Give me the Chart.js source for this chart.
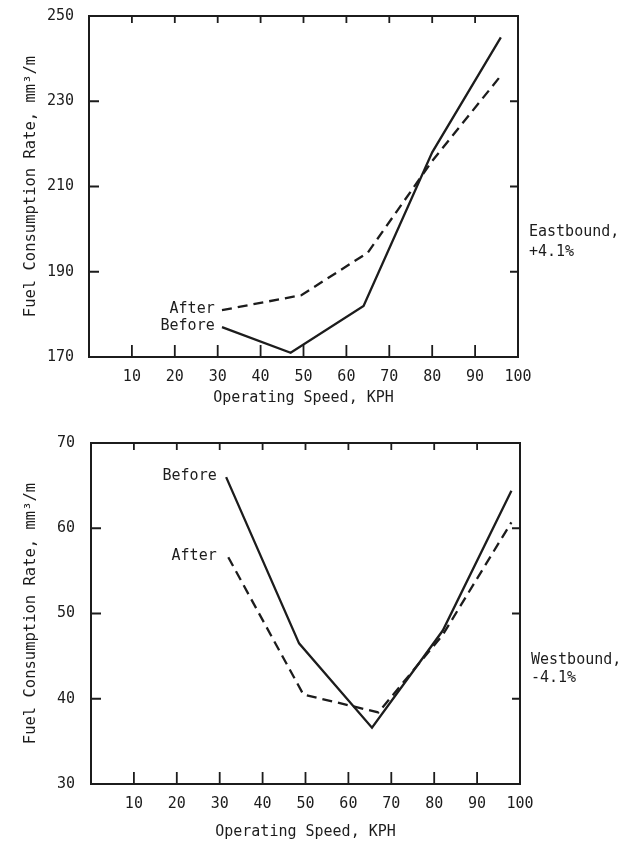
<!DOCTYPE html>
<html><head><meta charset="utf-8">
<script src="https://cdn.jsdelivr.net/npm/chart.js@4.4.0/dist/chart.umd.min.js"></script>
<style>
html,body{margin:0;padding:0;background:#fff;width:629px;height:845px;overflow:hidden}
.wrap{position:absolute;left:0;width:629px}
canvas{display:block}
</style></head><body>
<div class="wrap" style="top:0;height:420px"><canvas id="east" width="629" height="420"></canvas></div>
<div class="wrap" style="top:420px;height:425px"><canvas id="west" width="629" height="425"></canvas></div>
<script>
// ---- data ----
const xTicks = [10, 20, 30, 40, 50, 60, 70, 80, 90, 100];
const eastYTicks = [170, 190, 210, 230, 250];
const westYTicks = [30, 40, 50, 60, 70];
const seriesNames = ['Before', 'After'];

const eastBeforeX = [31, 47, 64, 80, 96];
const eastBeforeY = [177, 171, 182, 218, 245];
const eastAfterX  = [31, 49.5, 65, 80, 96];
const eastAfterY  = [181, 184.5, 194.5, 216, 236];

const westBeforeX = [31.5, 48.5, 65.5, 82, 98];
const westBeforeY = [66, 46.5, 36.6, 48, 64.4];
const westAfterX  = [32, 49.5, 67, 82, 98];
const westAfterY  = [56.6, 40.5, 38.4, 47.5, 60.7];

const eastNote = ['Eastbound,', '+4.1%'];
const westNote = ['Westbound,', '-4.1%'];
const xTitle = 'Operating Speed, KPH';
const yTitle = 'Fuel Consumption Rate, mm\u00B3/m';

// ---- style ----
const INK = '#1c1c1c';
const FAMILY = "'DejaVu Sans Mono', 'Liberation Mono', monospace";
const FONT = {family: FAMILY, size: 15};
const YTITLE_FONT = {family: FAMILY, size: 15.5};
const fontStr = "15px " + FAMILY;

function pts(xs, ys) { return xs.map((x, i) => ({x: x, y: ys[i]})); }

function framePlugin(o) {
  return {
    id: 'frame',
    afterDraw(chart) {
      const ctx = chart.ctx, a = chart.chartArea;
      const xs = chart.scales.x, ys = chart.scales.y;
      ctx.save();
      ctx.strokeStyle = INK;
      ctx.lineWidth = 2;
      ctx.strokeRect(a.left, a.top, a.right - a.left, a.bottom - a.top);
      ctx.lineWidth = 1.8;
      ctx.beginPath();
      xTicks.slice(0, -1).forEach(v => {
        const px = xs.getPixelForValue(v);
        ctx.moveTo(px, a.bottom); ctx.lineTo(px, a.bottom - 12);
        ctx.moveTo(px, a.top); ctx.lineTo(px, a.top + 7);
      });
      o.yTicks.slice(1, -1).forEach(v => {
        const py = ys.getPixelForValue(v);
        ctx.moveTo(a.left, py); ctx.lineTo(a.left + 10, py);
        ctx.moveTo(a.right, py); ctx.lineTo(a.right - 8, py);
      });
      ctx.stroke();
      // series labels
      ctx.fillStyle = INK;
      ctx.font = fontStr;
      ctx.textAlign = 'right';
      ctx.textBaseline = 'middle';
      chart.data.datasets.forEach(ds => {
        const p = ds.data[0];
        ctx.fillText(ds.label, xs.getPixelForValue(29.3), ys.getPixelForValue(p.y) - 1);
      });
      // side note
      ctx.textAlign = 'left';
      o.note.forEach((t, i) => {
        ctx.fillText(t, a.right + 11, ys.getPixelForValue(o.noteY[i]));
      });
      ctx.restore();
    }
  };
}

function build(id, o) {
  return new Chart(document.getElementById(id), {
    type: 'line',
    data: {datasets: [
      {label: seriesNames[0], data: pts(o.bx, o.by), borderColor: INK, borderWidth: 2.3,
       pointRadius: 0, tension: 0, fill: false},
      {label: seriesNames[1], data: pts(o.ax, o.ay), borderColor: INK, borderWidth: 2.3,
       borderDash: [10, 6], pointRadius: 0, tension: 0, fill: false}
    ]},
    options: {
      responsive: false, animation: false, devicePixelRatio: 1,
      layout: {padding: {top: o.padTop, right: o.padRight, bottom: 0, left: 0}},
      plugins: {legend: {display: false}, tooltip: {enabled: false}},
      scales: {
        x: {type: 'linear', min: 0, max: 100,
            afterBuildTicks: s => { s.ticks = xTicks.map(v => ({value: v})); },
            afterFit: s => { s.height = o.xH; },
            grid: {display: false}, border: {display: false},
            ticks: {font: FONT, color: INK, padding: 3, maxRotation: 0, autoSkip: false},
            title: {display: true, text: xTitle, font: FONT, color: INK,
                    padding: {top: 0, bottom: o.xTitlePad}}},
        y: {type: 'linear', min: o.yTicks[0], max: o.yTicks[o.yTicks.length - 1],
            afterBuildTicks: s => { s.ticks = o.yTicks.map(v => ({value: v})); },
            afterFit: s => { s.width = o.yW; },
            grid: {display: false}, border: {display: false},
            ticks: {font: FONT, color: INK, padding: o.yPad},
            title: {display: true, text: yTitle, font: YTITLE_FONT, color: INK,
                    padding: {top: 22, bottom: 0}}}
      }
    },
    plugins: [framePlugin(o)]
  });
}

build('east', {bx: eastBeforeX, by: eastBeforeY, ax: eastAfterX, ay: eastAfterY,
  yTicks: eastYTicks, padTop: 15, padRight: 111, xH: 63, yW: 89, yPad: 7, xTitlePad: 13,
  note: eastNote, noteY: [199.4, 194.5]});
build('west', {bx: westBeforeX, by: westBeforeY, ax: westAfterX, ay: westAfterY,
  yTicks: westYTicks, padTop: 23, padRight: 109, xH: 61, yW: 91, yPad: 8, xTitlePad: 4,
  note: westNote, noteY: [44.55, 42.4]});
</script>
</body></html>
